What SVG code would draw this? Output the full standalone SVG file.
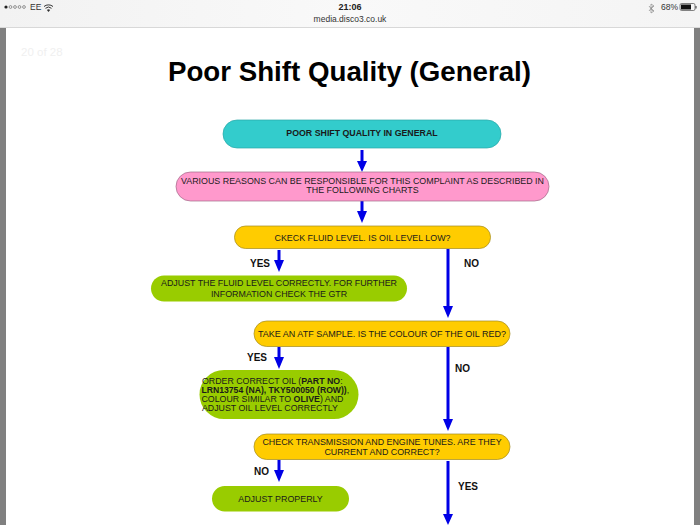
<svg xmlns="http://www.w3.org/2000/svg" width="700" height="525" viewBox="0 0 700 525">
<defs>
<linearGradient id="bar" x1="0" x2="1" y1="0" y2="0"><stop offset="0" stop-color="#f2f2f2"/><stop offset="0.5" stop-color="#f9f9f9"/><stop offset="1" stop-color="#f4f4f4"/></linearGradient>
</defs>
<style>
text{font-family:"Liberation Sans",Arial,sans-serif;fill:#1a1a1a}
.n{font-size:8.880px;text-anchor:middle}
.b{font-weight:bold}
.l{font-size:10px;font-weight:bold;fill:#111}
.ui{font-size:8.500px;fill:#333}
.c{stroke:#0000e6;stroke-width:3;fill:none}
.h{fill:#0000e6}
.o{stroke:#a08a20;stroke-width:.7}
</style>
<rect width="700" height="525" fill="#fff"/>
<rect width="700" height="27" fill="url(#bar)"/>
<line x1="0" x2="700" y1="27.500" y2="27.500" stroke="#d8d8d8"/>
<rect x="0" y="28" width="6" height="497" fill="#808080"/>
<rect x="694" y="28" width="6" height="497" fill="#808080"/>
<g id="status">
<circle cx="6" cy="7" r="1.600" fill="#222"/>
<g fill="none" stroke="#555" stroke-width=".6"><circle cx="10.500" cy="7" r="1.400"/><circle cx="15" cy="7" r="1.400"/><circle cx="19.500" cy="7" r="1.400"/><circle cx="24" cy="7" r="1.400"/></g>
<text class="ui" x="30" y="10">EE</text>
<path d="M44 6.500a7 7 0 0 1 9 0M45.500 8.300a4.500 4.500 0 0 1 6 0" fill="none" stroke="#333" stroke-width="1"/><path d="M48.500 12l-1.600-2a2.400 2.400 0 0 1 3.200 0z" fill="#333"/>
<text x="350" y="10" font-size="9" font-weight="bold" text-anchor="middle" style="fill:#222">21:06</text>
<text class="ui" x="350" y="22" text-anchor="middle">media.disco3.co.uk</text>
<path d="M651 4l3 2-3 2.500 3 2.500-3 2V4zM649 6l4 5M649 11l4-5" fill="none" stroke="#888" stroke-width=".7"/>
<text class="ui" x="661" y="10">68%</text>
<rect x="680" y="3.500" width="15" height="7" rx="1.500" fill="none" stroke="#333" stroke-width=".6"/><rect x="681" y="4.500" width="10" height="5" fill="#111"/><rect x="695.500" y="6" width="1" height="2.500" fill="#333"/>
</g>
<text x="21" y="56" font-size="11.500" style="fill:#f0f0f0">20 of 28</text>
<text x="349.500" y="80.500" font-size="27.700" font-weight="bold" text-anchor="middle" style="fill:#000">Poor Shift Quality (General)</text>
<g id="connectors">
<path class="c" d="M362 150V165"/><path class="h" d="M357 161h10l-5 11z"/>
<path class="c" d="M362 201V215"/><path class="h" d="M357 211h10l-5 12z"/>
<path class="c" d="M279 250V264"/><path class="h" d="M274 260h10l-5 12z"/>
<path class="c" d="M448 249V306"/><path class="h" d="M443 306h10l-5 12z"/>
<path class="c" d="M279 347V361"/><path class="h" d="M274 357h10l-5 12z"/>
<path class="c" d="M448 347V420"/><path class="h" d="M443 419h10l-5 12z"/>
<path class="c" d="M279 460V474"/><path class="h" d="M274 470h10l-5 12z"/>
<path class="c" d="M448 461V514"/><path class="h" d="M443 514h10l-5 11z"/>
</g>
<text class="l" x="250" y="267">YES</text>
<text class="l" x="464" y="267">NO</text>
<text class="l" x="247" y="361">YES</text>
<text class="l" x="455" y="372">NO</text>
<text class="l" x="254" y="475">NO</text>
<text class="l" x="458" y="490">YES</text>
<g id="n1"><rect x="223" y="120" width="278" height="28" rx="14" fill="#33cccc" stroke="#2aa8a8" stroke-width=".7"/><text class="n b" x="362" y="136" style="font-size:8.800px">POOR SHIFT QUALITY IN GENERAL</text></g>
<g id="n2"><rect x="176" y="172" width="373" height="29" rx="14.500" fill="#ff99cc" stroke="#a06a88" stroke-width=".7"/><text class="n" x="362.500" y="184">VARIOUS REASONS CAN BE RESPONSIBLE FOR THIS COMPLAINT AS DESCRIBED IN</text><text class="n" x="362.500" y="193">THE FOLLOWING CHARTS</text></g>
<g id="n3"><rect x="234.500" y="226" width="256" height="22.500" rx="11" fill="#ffcc00" class="o"/><text class="n" x="362.500" y="240.500">CKECK FLUID LEVEL. IS OIL LEVEL LOW?</text></g>
<g id="n4"><rect x="151" y="275.500" width="256" height="26" rx="13" fill="#99cc00"/><text class="n" x="279" y="286">ADJUST THE FLUID LEVEL CORRECTLY. FOR FURTHER</text><text class="n" x="279" y="296.500">INFORMATION CHECK THE GTR</text></g>
<g id="n5"><rect x="254" y="321" width="256" height="25.500" rx="12.700" fill="#ffcc00" class="o"/><text class="n" x="382" y="336.500" style="font-size:9px">TAKE AN ATF SAMPLE. IS THE COLOUR OF THE OIL RED?</text></g>
<g id="n6"><rect x="199.500" y="370" width="159" height="49" rx="24.500" fill="#99cc00"/>
<text x="202" y="384" font-size="8.800">ORDER CORRECT OIL (<tspan class="b">PART NO</tspan>:</text>
<text x="201.500" y="393" font-size="8.650" class="b">LRN13754 (NA), TKY500050 (ROW))<tspan font-weight="normal">,</tspan></text>
<text x="201.500" y="401.500" font-size="8.800">COLOUR SIMILAR TO <tspan class="b">OLIVE</tspan>) AND</text>
<text x="202" y="410.500" font-size="8.800">ADJUST OIL LEVEL CORRECTLY</text></g>
<g id="n7"><rect x="254" y="434" width="256" height="25.500" rx="12.700" fill="#ffcc00" class="o"/><text class="n" x="382" y="444.500">CHECK TRANSMISSION AND ENGINE TUNES. ARE THEY</text><text class="n" x="382" y="455">CURRENT AND CORRECT?</text></g>
<g id="n8"><rect x="212" y="486" width="137" height="25.500" rx="12.700" fill="#99cc00"/><text class="n" x="280.500" y="501.500">ADJUST PROPERLY</text></g>
</svg>
